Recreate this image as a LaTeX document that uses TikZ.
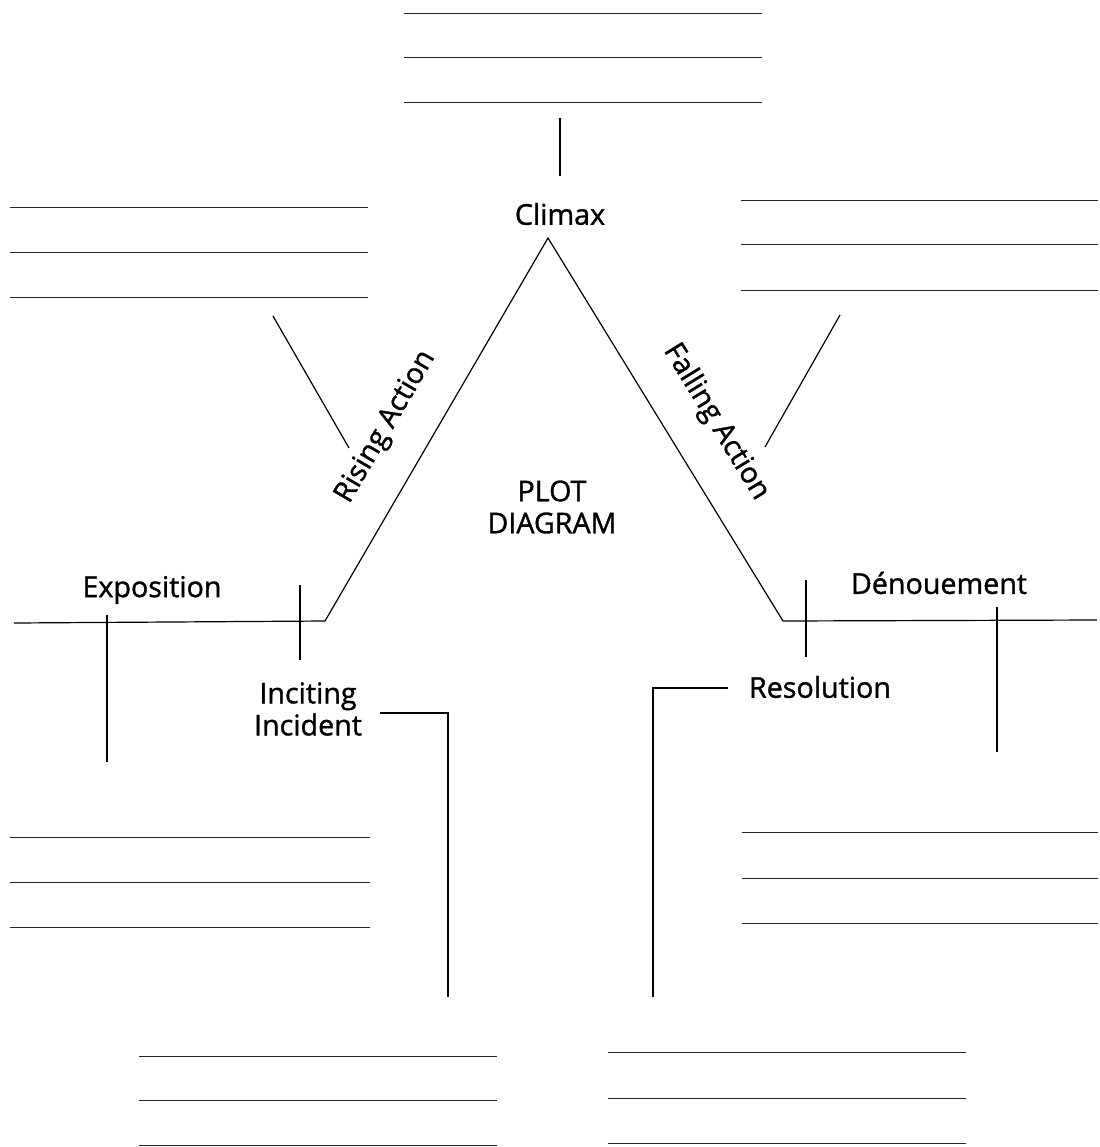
\documentclass[tikz,border=0pt]{standalone}
\usepackage{fontspec}
\setmainfont{Open Sans}[Ligatures=NoCommon,RawFeature={embolden=1.2}]
\begin{document}
\begin{tikzpicture}[x=0.75pt,y=-0.75pt,
  ln/.style={line width=0.9pt,black},
  blank/.style={line width=0.7pt,black!85},
  lbl/.style={font=\fontsize{21.5}{25}\selectfont,inner sep=0pt,align=center}]
\useasboundingbox (0,0) rectangle (1100,1147);
% plot line
\coordinate (b0) at (14,623);
\coordinate (b1) at (325,621);
\coordinate (apex) at (548,238);
\coordinate (b2) at (783,621);
\coordinate (b3) at (1097,620);
\draw[ln] (b0) -- (b1) -- (apex) -- (b2) -- (b3);
% labels
\node[lbl] (climax) at (560,214) {Climax};
\node[lbl] (expo) at (152,590) {Exposition};
\node[lbl] (incit) at (308,709) {Inciting\\[-1pt]Incident};
\node[lbl] (resol) at (820,687) {Resolution};
\node[lbl] (denou) at (939,583) {Dénouement};
\node[lbl] (plot) at (552,507) {PLOT\\[-1pt]DIAGRAM};
\node[lbl,rotate=59.8] (rising) at (386,427) {Rising Action};
\node[lbl,rotate=-58.5] (falling) at (716,422) {Falling Action};
% ticks and connectors
\coordinate (c1) at (560,118); \coordinate (c2) at (560,176);
\draw[ln] (c1) -- (c2);
\coordinate (e1) at (107,615); \coordinate (e2) at (107,762);
\draw[ln] (e1) -- (e2);
\coordinate (i1) at (300,585); \coordinate (i2) at (300,660);
\draw[ln] (i1) -- (i2);
\coordinate (ic1) at (380,713); \coordinate (ic2) at (448,713); \coordinate (ic3) at (448,997);
\draw[ln] (ic1) -- (ic2) -- (ic3);
\coordinate (r1) at (806,580); \coordinate (r2) at (806,657);
\draw[ln] (r1) -- (r2);
\coordinate (rc1) at (728,688); \coordinate (rc2) at (653,688); \coordinate (rc3) at (653,997);
\draw[ln] (rc1) -- (rc2) -- (rc3);
\coordinate (d1) at (997,607); \coordinate (d2) at (997,752);
\draw[ln] (d1) -- (d2);
\coordinate (ra1) at (273,316); \coordinate (ra2) at (349,448);
\draw[ln] (ra1) -- (ra2);
\coordinate (fa1) at (840,315); \coordinate (fa2) at (765,447);
\draw[ln] (fa1) -- (fa2);
% blank lines
\foreach \y in {13,57,102} \draw[blank] (404,\y) -- (762,\y);
\foreach \y in {207,252,297} \draw[blank] (10,\y) -- (368,\y);
\foreach \y in {200,244,290} \draw[blank] (741,\y) -- (1098,\y);
\foreach \y in {837,882,927} \draw[blank] (10,\y) -- (370,\y);
\foreach \y in {832,878,923} \draw[blank] (742,\y) -- (1098,\y);
\foreach \y in {1056,1100,1145} \draw[blank] (139,\y) -- (497,\y);
\foreach \y in {1052,1098,1143} \draw[blank] (608,\y) -- (966,\y);
\end{tikzpicture}
\end{document}
